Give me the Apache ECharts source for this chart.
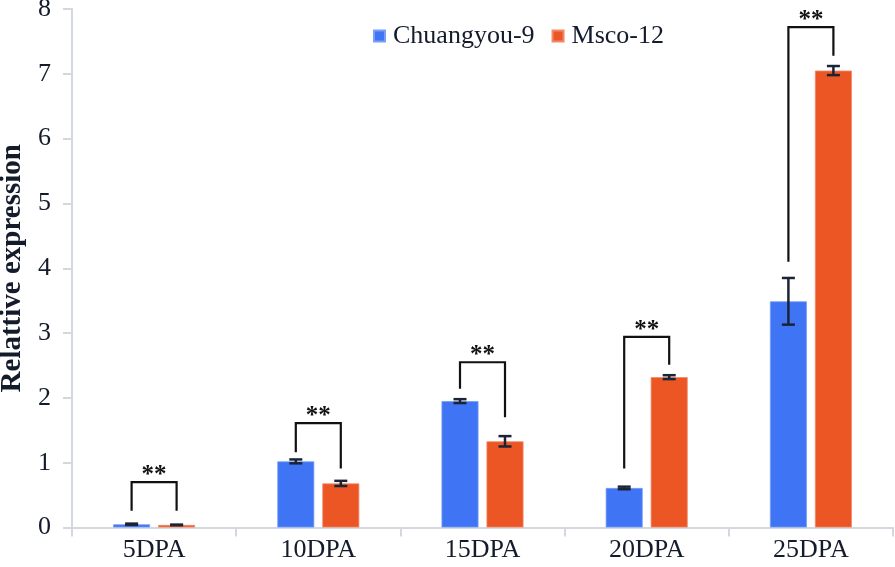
<!DOCTYPE html>
<html>
<head>
<meta charset="utf-8">
<script src="https://cdn.jsdelivr.net/npm/echarts@6/dist/echarts.min.js"></script>
<style>html,body{margin:0;padding:0;background:#fff;}#c{width:895px;height:567px;}</style>
</head>
<body>
<div id="c"></div>
<script>
const categories = ['5DPA', '10DPA', '15DPA', '20DPA', '25DPA'];
const seriesNames = ['Chuangyou-9', 'Msco-12'];
const chuangyou = [0.05, 1.02, 1.95, 0.61, 3.49];
const chuangyouErr = [0.01, 0.03, 0.03, 0.02, 0.36];
const msco = [0.04, 0.68, 1.33, 2.32, 7.05];
const mscoErr = [0.005, 0.04, 0.08, 0.03, 0.07];
// significance brackets: [top, left leg bottom, right leg bottom]
const bracketTop = [0.70, 1.61, 2.55, 2.94, 7.72];
const bracketLeft = [0.26, 1.16, 2.14, 0.91, 4.10];
const bracketRight = [0.26, 0.91, 1.70, 2.51, 7.28];
const sigLabels = ['**', '**', '**', '**', '**'];
const yTicks = [0, 1, 2, 3, 4, 5, 6, 7, 8];

const BAR_W = 37, BAR_GAP = 8;
const OFF = (BAR_W + BAR_GAP) / 2;
const FONT = '"Liberation Serif", "Times New Roman", serif';

function errData(vals, errs) {
  return vals.map((v, i) => [i, v - errs[i], v + errs[i]]);
}
function errRender(offset) {
  return function (params, api) {
    const i = api.value(0);
    const lo = api.coord([i, api.value(1)]);
    const hi = api.coord([i, api.value(2)]);
    const x = lo[0] + offset;
    const cap = 6.5;
    const style = { stroke: '#1b2436', lineWidth: 2.5 };
    return {
      type: 'group',
      children: [
        { type: 'line', shape: { x1: x, y1: hi[1], x2: x, y2: lo[1] }, style },
        { type: 'line', shape: { x1: x - cap, y1: hi[1], x2: x + cap, y2: hi[1] }, style },
        { type: 'line', shape: { x1: x - cap, y1: lo[1], x2: x + cap, y2: lo[1] }, style }
      ]
    };
  };
}
const bracketData = categories.map((c, i) => [i, bracketTop[i], bracketLeft[i], bracketRight[i], sigLabels[i]]);

const chart = echarts.init(document.getElementById('c'), null, { renderer: 'canvas' });
chart.setOption({
  animation: false,
  backgroundColor: '#ffffff',
  textStyle: { fontFamily: FONT },
  legend: {
    data: seriesNames,
    left: 368, top: 18,
    itemWidth: 11, itemHeight: 11, itemGap: 17,
    icon: 'rect',
    textStyle: { fontFamily: FONT, fontSize: 26, color: '#141b2b', padding: [0, 0, 0, 3] }
  },
  grid: { left: 72, right: 2, top: 9, bottom: 39.5, containLabel: false, outerBoundsMode: 'none' },
  xAxis: {
    type: 'category',
    data: categories,
    boundaryGap: true,
    axisLine: { lineStyle: { color: '#d3d8de', width: 2 } },
    axisTick: { show: true, alignWithLabel: false, length: 9, lineStyle: { color: '#d3d8de', width: 2 } },
    axisLabel: { fontFamily: FONT, fontSize: 26, color: '#141b2b', margin: 10 }
  },
  yAxis: {
    type: 'value',
    min: yTicks[0], max: yTicks[yTicks.length - 1], interval: 1,
    name: 'Relattive expression',
    nameLocation: 'middle',
    nameGap: 42,
    nameTextStyle: { fontFamily: FONT, fontSize: 29, fontWeight: 'bold', color: '#141b2b' },
    axisLine: { show: true, lineStyle: { color: '#d3d8de', width: 2 } },
    axisTick: { show: true, length: 9, lineStyle: { color: '#d3d8de', width: 2 } },
    axisLabel: { fontFamily: FONT, fontSize: 26, color: '#141b2b', margin: 21 },
    splitLine: { show: false }
  },
  series: [
    {
      name: seriesNames[0], type: 'bar', data: chuangyou,
      barWidth: BAR_W, barGap: (BAR_GAP / BAR_W * 100) + '%',
      itemStyle: { color: '#3f75f4', borderColor: '#7a9ef6', borderWidth: 0.8 }
    },
    {
      name: seriesNames[1], type: 'bar', data: msco,
      barWidth: BAR_W, barGap: (BAR_GAP / BAR_W * 100) + '%',
      itemStyle: { color: '#ec5624', borderColor: '#f08a6a', borderWidth: 0.8 }
    },
    {
      type: 'custom', name: 'errA', z: 10, silent: true,
      data: errData(chuangyou, chuangyouErr),
      encode: { x: 0, y: [1, 2] },
      renderItem: errRender(-OFF)
    },
    {
      type: 'custom', name: 'errB', z: 10, silent: true,
      data: errData(msco, mscoErr),
      encode: { x: 0, y: [1, 2] },
      renderItem: errRender(OFF)
    },
    {
      type: 'custom', name: 'sig', z: 11, silent: true,
      data: bracketData,
      encode: { x: 0, y: [1, 2, 3] },
      renderItem: function (params, api) {
        const i = api.value(0);
        const top = api.coord([i, api.value(1)]);
        const lb = api.coord([i, api.value(2)]);
        const rb = api.coord([i, api.value(3)]);
        const xl = top[0] - OFF, xr = top[0] + OFF;
        return {
          type: 'group',
          children: [
            { type: 'polyline', shape: { points: [[xl, lb[1]], [xl, top[1]], [xr, top[1]], [xr, rb[1]]] },
              style: { stroke: '#111111', lineWidth: 2.2, fill: null } },
            { type: 'text', style: { text: bracketData[params.dataIndex][4], x: top[0], y: top[1] + 6,
              textAlign: 'center', textVerticalAlign: 'bottom',
              font: 'bold 25px ' + FONT, fill: '#111111' } }
          ]
        };
      }
    }
  ]
});
</script>
</body>
</html>
